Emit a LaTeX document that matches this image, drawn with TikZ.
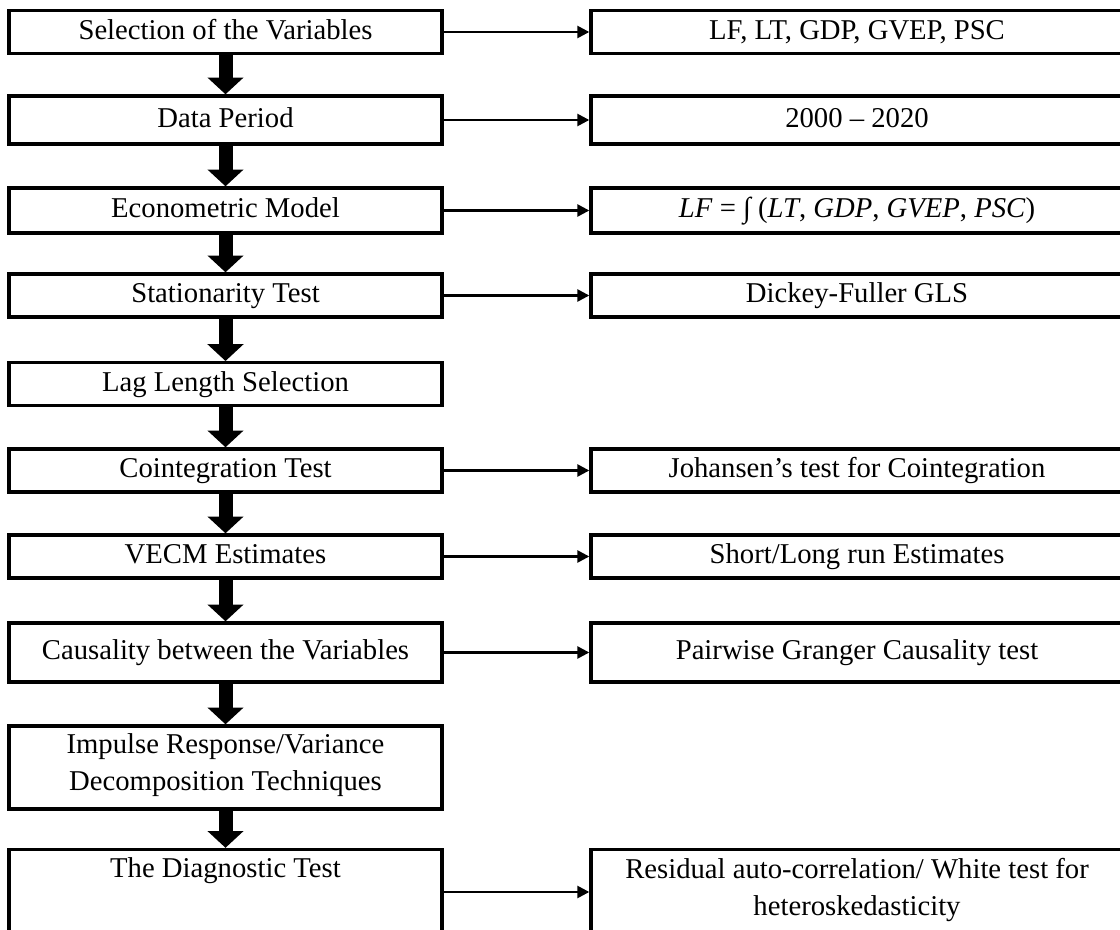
\documentclass[tikz,border=0pt]{standalone}
\usepackage{fontspec}
\setmainfont{Liberation Serif}
\usetikzlibrary{arrows.meta}

\begin{document}
\begin{tikzpicture}[
    stage/.style={draw, line width=2.4pt, minimum width=10.825cm, align=center, inner sep=2pt,
                  font=\fontsize{20.4pt}{26.3pt}\selectfont,
                  execute at begin node=\strut, execute at end node=\strut},
    result/.style={stage, minimum width=13.3cm},
    link/.style={-{Triangle[length=0.3cm, width=0.3cm]}, line width=1.8pt},
    flow/.style={-{Triangle[length=0.42cm, width=0.88cm]}, line width=0.35cm}
]

    % Frame
    \useasboundingbox (0, 0) rectangle (28, -23.25);

    % Method steps
    \node[stage, minimum height=1.05cm] (sel) at (5.6375, -0.8) {Selection of the Variables};
    \node[stage, minimum height=1.2cm] (per) at (5.6375, -3.0) {Data Period};
    \node[stage, minimum height=1.125cm] (mod) at (5.6375, -5.2625) {Econometric Model};
    \node[stage, minimum height=1.075cm] (sta) at (5.6375, -7.3875) {Stationarity Test};
    \node[stage, minimum height=1.05cm] (lag) at (5.6375, -9.6) {Lag Length Selection};
    \node[stage, minimum height=1.075cm] (coi) at (5.6375, -11.7625) {Cointegration Test};
    \node[stage, minimum height=1.075cm] (vec) at (5.6375, -13.9125) {VECM Estimates};
    \node[stage, minimum height=1.475cm] (cau) at (5.6375, -16.3125) {Causality between the Variables};
    \node[stage, minimum height=2.075cm] (imp) at (5.6375, -19.1875) {Impulse Response/Variance\\Decomposition Techniques};
    \node[stage, minimum height=2.125cm] (dia) at (5.6375, -22.3) {The Diagnostic Test\\};

    % Techniques
    \node[result, minimum height=1.05cm] (selR) at (21.425, -0.8) {LF, LT, GDP, GVEP, PSC};
    \node[result, minimum height=1.2cm] (perR) at (21.425, -3.0) {2000 -- 2020};
    \node[result, minimum height=1.125cm] (modR) at (21.425, -5.2625) {\textit{LF} = ∫ (\textit{LT}, \textit{GDP}, \textit{GVEP}, \textit{PSC})};
    \node[result, minimum height=1.075cm] (staR) at (21.425, -7.3875) {Dickey-Fuller GLS};
    \node[result, minimum height=1.075cm] (coiR) at (21.425, -11.7625) {Johansen's test for Cointegration};
    \node[result, minimum height=1.075cm] (vecR) at (21.425, -13.9125) {Short/Long run Estimates};
    \node[result, minimum height=1.475cm] (cauR) at (21.425, -16.3125) {Pairwise Granger Causality test};
    \node[result, minimum height=2.125cm] (diaR) at (21.425, -22.3) {Residual auto-correlation/ White test for\\heteroskedasticity};

    % Down arrows
    \draw[flow] (sel) -- (per);
    \draw[flow] (per) -- (mod);
    \draw[flow] (mod) -- (sta);
    \draw[flow] (sta) -- (lag);
    \draw[flow] (lag) -- (coi);
    \draw[flow] (coi) -- (vec);
    \draw[flow] (vec) -- (cau);
    \draw[flow] (cau) -- (imp);
    \draw[flow] (imp) -- (dia);

    % Side arrows
    \draw[link] (sel) -- (selR);
    \draw[link] (per) -- (perR);
    \draw[link] (mod) -- (modR);
    \draw[link] (sta) -- (staR);
    \draw[link] (coi) -- (coiR);
    \draw[link] (vec) -- (vecR);
    \draw[link] (cau) -- (cauR);
    \draw[link] (dia) -- (diaR);

\end{tikzpicture}
\end{document}
